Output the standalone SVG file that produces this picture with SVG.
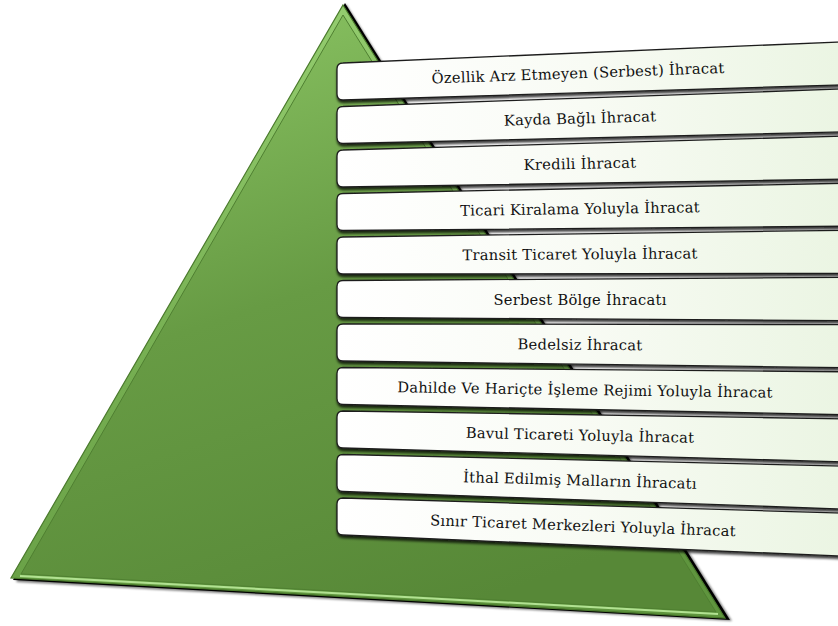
<svg xmlns="http://www.w3.org/2000/svg" width="838" height="626" viewBox="0 0 838 626">
<style>
.box{fill:url(#boxg);stroke:#1e1e1e;stroke-width:1.3;filter:url(#ds)}
.lbl{font-family:"DejaVu Serif","Liberation Serif",serif;font-size:14.7px;letter-spacing:0.25px;fill:#111;text-anchor:middle}
</style>
<defs>
<linearGradient id="boxg" gradientUnits="userSpaceOnUse" x1="337" y1="0" x2="838" y2="0">
<stop offset="0" stop-color="#ffffff"/>
<stop offset="0.5" stop-color="#f8fbf4"/>
<stop offset="1" stop-color="#ebf5e3"/>
</linearGradient>
<linearGradient id="outer" gradientUnits="userSpaceOnUse" x1="250" y1="5" x2="450" y2="618">
<stop offset="0" stop-color="#97d072"/>
<stop offset="0.5" stop-color="#74ad50"/>
<stop offset="1" stop-color="#5f953e"/>
</linearGradient>
<linearGradient id="inner" gradientUnits="userSpaceOnUse" x1="250" y1="10" x2="450" y2="610">
<stop offset="0" stop-color="#87c060"/>
<stop offset="0.45" stop-color="#679b44"/>
<stop offset="1" stop-color="#578837"/>
</linearGradient>
<filter id="blur" x="-10%" y="-10%" width="120%" height="120%">
<feGaussianBlur stdDeviation="1.2"/>
</filter>
<filter id="ds" x="-5%" y="-20%" width="110%" height="160%">
<feDropShadow dx="0.5" dy="2.5" stdDeviation="1.3" flood-color="#000" flood-opacity="0.75"/>
</filter>
</defs>

<g id="pyramid">
<polygon points="346,4 732,621 16,582" fill="#000" opacity="0.5" filter="url(#blur)"/>
<polygon points="345,3 730,620 13,580" fill="#000"/>
<polygon points="343,5 725,618 11,578" fill="url(#outer)" stroke="#4a7a2c" stroke-width="1.2"/>
<polygon points="343,15 716,612 21,574" fill="url(#inner)" stroke="#4f7f31" stroke-width="1"/>
<line x1="20" y1="576" x2="718" y2="614" stroke="#b2e292" stroke-width="2"/>
</g>

<g id="connectors"></g>

<g id="n1">
<path class="box" d="M343,63 L850,41.5 L850,84.6 L343,100 Q337,100 337,94 L337,69 Q337,63 343,63 Z"/>
<text class="lbl" transform="translate(578,72.7) rotate(-2.06)" y="5.5">Özellik Arz Etmeyen (Serbest) İhracat</text>
</g>
<g id="n2">
<path class="box" d="M343,106.5 L850,88.7 L850,131.8 L343,143.5 Q337,143.5 337,137.5 L337,112.5 Q337,106.5 343,106.5 Z"/>
<text class="lbl" transform="translate(580,118) rotate(-1.65)" y="5.5">Kayda Bağlı İhracat</text>
</g>
<g id="n3">
<path class="box" d="M343,150 L850,135.9 L850,179 L343,187 Q337,187 337,181 L337,156 Q337,150 343,150 Z"/>
<text class="lbl" transform="translate(580,163.3) rotate(-1.23)" y="5.5">Kredili İhracat</text>
</g>
<g id="n4">
<path class="box" d="M343,193.5 L850,183.1 L850,226.2 L343,230.5 Q337,230.5 337,224.5 L337,199.5 Q337,193.5 343,193.5 Z"/>
<text class="lbl" transform="translate(580,208.5) rotate(-0.82)" y="5.5">Ticari Kiralama Yoluyla İhracat</text>
</g>
<g id="n5">
<path class="box" d="M343,237 L850,230.2 L850,273.4 L343,274 Q337,274 337,268 L337,243 Q337,237 343,237 Z"/>
<text class="lbl" transform="translate(580,253.8) rotate(-0.41)" y="5.5">Transit Ticaret Yoluyla İhracat</text>
</g>
<g id="n6">
<path class="box" d="M343,280.5 L850,277.4 L850,320.6 L343,317.5 Q337,317.5 337,311.5 L337,286.5 Q337,280.5 343,280.5 Z"/>
<text class="lbl" transform="translate(580,299)" y="5.5">Serbest Bölge İhracatı</text>
</g>
<g id="n7">
<path class="box" d="M343,324 L850,324.6 L850,367.8 L343,361 Q337,361 337,355 L337,330 Q337,324 343,324 Z"/>
<text class="lbl" transform="translate(580,344.3) rotate(0.41)" y="5.5">Bedelsiz İhracat</text>
</g>
<g id="n8">
<path class="box" d="M343,367.5 L850,371.8 L850,414.9 L343,404.5 Q337,404.5 337,398.5 L337,373.5 Q337,367.5 343,367.5 Z"/>
<text class="lbl" transform="translate(585,389.5) rotate(0.82)" y="5.5">Dahilde Ve Hariçte İşleme Rejimi Yoluyla İhracat</text>
</g>
<g id="n9">
<path class="box" d="M343,411 L850,419 L850,462.1 L343,448 Q337,448 337,442 L337,417 Q337,411 343,411 Z"/>
<text class="lbl" transform="translate(580,434.8) rotate(1.23)" y="5.5">Bavul Ticareti Yoluyla İhracat</text>
</g>
<g id="n10">
<path class="box" d="M343,454.5 L850,466.2 L850,509.3 L343,491.5 Q337,491.5 337,485.5 L337,460.5 Q337,454.5 343,454.5 Z"/>
<text class="lbl" transform="translate(580,480) rotate(1.65)" y="5.5">İthal Edilmiş Malların İhracatı</text>
</g>
<g id="n11">
<path class="box" d="M343,498 L850,513.4 L850,556.5 L343,535 Q337,535 337,529 L337,504 Q337,498 343,498 Z"/>
<text class="lbl" transform="translate(583,525.3) rotate(2.06)" y="5.5">Sınır Ticaret Merkezleri Yoluyla İhracat</text>
</g>
</svg>
